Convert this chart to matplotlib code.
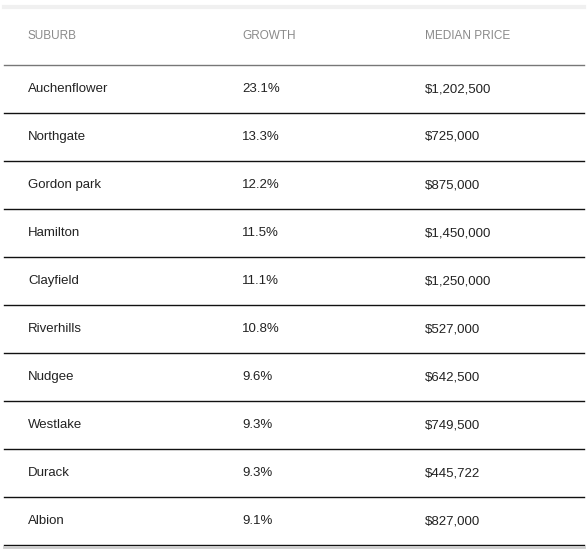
import matplotlib
matplotlib.use("Agg")
import matplotlib.pyplot as plt
from matplotlib.lines import Line2D

headers = ["SUBURB", "GROWTH", "MEDIAN PRICE"]
suburbs = ["Auchenflower", "Northgate", "Gordon park", "Hamilton", "Clayfield",
           "Riverhills", "Nudgee", "Westlake", "Durack", "Albion"]
growth = ["23.1%", "13.3%", "12.2%", "11.5%", "11.1%", "10.8%", "9.6%", "9.3%", "9.3%", "9.1%"]
prices = ["$1,202,500", "$725,000", "$875,000", "$1,450,000", "$1,250,000",
          "$527,000", "$642,500", "$749,500", "$445,722", "$827,000"]

W, H = 588, 550
fig = plt.figure(figsize=(W/100, H/100), dpi=100)
fig.patch.set_facecolor("white")
plt.rcParams['font.family'] = ['Liberation Sans', 'DejaVu Sans']

def fy(y): return 1 - y / H
def fx(x): return x / W

colx = [28, 242, 425]
# top shadow
fig.add_artist(Line2D([fx(4), fx(584)], [fy(7), fy(7)], color="#f0f0f0", lw=3))
for x, h in zip(colx, headers):
    fig.text(fx(x), fy(36), h, fontsize=8.5, color="#8a8a8a", va="center", ha="left")
fig.add_artist(Line2D([fx(4), fx(584)], [fy(65), fy(65)], color="#777777", lw=1))
for i in range(len(suburbs)):
    yc = 89 + 48 * i
    for x, t in zip(colx, [suburbs[i], growth[i], prices[i]]):
        fig.text(fx(x), fy(yc), t, fontsize=9.5, color="#222222", va="center", ha="left")
    yl = 113 + 48 * i
    fig.add_artist(Line2D([fx(4), fx(584)], [fy(yl), fy(yl)], color="#111111", lw=1))
fig.add_artist(Line2D([fx(4), fx(584)], [fy(547), fy(547)], color="#cccccc", lw=2))
fig.savefig("out.png", dpi=100, facecolor="white")
